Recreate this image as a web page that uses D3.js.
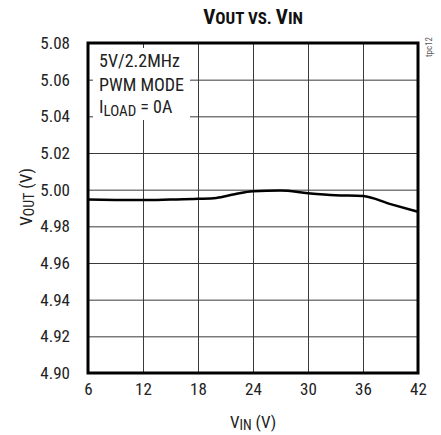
<html>
<head>
<script src="https://d3js.org/d3.v7.min.js"></script>
<style>
  body { margin: 0; background: #fff; }
  text { font-family: "Liberation Sans Narrow", "Roboto Condensed", "DejaVu Sans Condensed", sans-serif; }
</style>
</head>
<body>
<div id="viz"></div>
<script>
const W = 441, H = 435;

// input voltage (V) and output voltage (V)
const vin  = [6, 9, 12, 15, 18, 20, 22, 24, 27, 30, 33, 36, 39, 42];
const vout = [4.9947, 4.9944, 4.9943, 4.9946, 4.9950, 4.9955, 4.9975, 4.9991, 4.9995, 4.9981, 4.9970, 4.9965, 4.9921, 4.9879];

const xTicks = [6, 12, 18, 24, 30, 36, 42];
const yTicks = [4.90, 4.92, 4.94, 4.96, 4.98, 5.00, 5.02, 5.04, 5.06, 5.08];

const margin = {left: 88, right: 23, top: 43, bottom: 62};
const pw = W - margin.left - margin.right;
const ph = H - margin.top - margin.bottom;

const svg = d3.select("#viz").append("svg")
  .attr("width", W)
  .attr("height", H);

const x = d3.scaleLinear().domain([6, 42]).range([margin.left, margin.left + pw]);
const y = d3.scaleLinear().domain([4.90, 5.08]).range([margin.top + ph, margin.top]);

// grid + tick labels
const xAxis = svg.append("g")
  .attr("transform", `translate(0,${margin.top + ph})`)
  .call(d3.axisBottom(x).tickValues(xTicks).tickSize(-ph).tickPadding(10).tickFormat(d3.format("d")));

const yAxis = svg.append("g")
  .attr("transform", `translate(${margin.left},0)`)
  .call(d3.axisLeft(y).tickValues(yTicks).tickSize(-pw).tickPadding(18).tickFormat(d3.format(".2f")));

[xAxis, yAxis].forEach(a => {
  a.select(".domain").remove();
  a.selectAll("line").attr("stroke", "#3a3a3a").attr("stroke-width", 1);
  a.selectAll("text").attr("fill", "#222").style("font-size", "17px");
});

// white box behind the conditions text
svg.append("rect")
  .attr("x", margin.left + 5)
  .attr("y", margin.top + 5)
  .attr("width", 97)
  .attr("height", 72)
  .attr("fill", "#fff");

// curve
svg.append("path")
  .datum(vin.map((v, i) => [v, vout[i]]))
  .attr("fill", "none")
  .attr("stroke", "#000")
  .attr("stroke-width", 2.5)
  .attr("d", d3.line().x(d => x(d[0])).y(d => y(d[1])).curve(d3.curveMonotoneX));

// frame
svg.append("rect")
  .attr("x", margin.left)
  .attr("y", margin.top)
  .attr("width", pw)
  .attr("height", ph)
  .attr("fill", "none")
  .attr("stroke", "#000")
  .attr("stroke-width", 3);

// conditions
const note = svg.append("g").attr("fill", "#222").style("font-size", "18px");
note.append("text").attr("x", 99).attr("y", 67).text("5V/2.2MHz");
note.append("text").attr("x", 99).attr("y", 91).text("PWM MODE");
const il = note.append("text").attr("x", 99).attr("y", 113);
il.append("tspan").text("I");
il.append("tspan").attr("dy", 3).style("font-size", "15px").text("LOAD");
il.append("tspan").attr("dy", -3).text(" = 0A");

// title
const title = svg.append("text")
  .attr("x", margin.left + pw / 2)
  .attr("y", 24)
  .attr("text-anchor", "middle")
  .attr("fill", "#111")
  .style("font-weight", "bold");
title.append("tspan").style("font-size", "21px").text("V");
title.append("tspan").style("font-size", "17px").text("OUT VS. ");
title.append("tspan").style("font-size", "21px").text("V");
title.append("tspan").style("font-size", "17px").text("IN");

// x label
const xl = svg.append("text")
  .attr("x", margin.left + pw / 2)
  .attr("y", 428)
  .attr("text-anchor", "middle")
  .attr("fill", "#222")
  .style("font-size", "17px");
xl.append("tspan").text("V");
xl.append("tspan").attr("dy", 2).style("font-size", "14px").text("IN");
xl.append("tspan").attr("dy", -2).text(" (V)");

// y label
const yl = svg.append("text")
  .attr("transform", `translate(32,197) rotate(-90)`)
  .attr("text-anchor", "middle")
  .attr("fill", "#222")
  .style("font-size", "17px");
yl.append("tspan").text("V");
yl.append("tspan").attr("dy", 2).style("font-size", "14px").text("OUT");
yl.append("tspan").attr("dy", -2).text(" (V)");

// figure tag
svg.append("text")
  .attr("transform", `translate(432,47) rotate(-90)`)
  .attr("text-anchor", "middle")
  .attr("fill", "#555")
  .style("font-size", "9px")
  .text("tpc12");
</script>
</body>
</html>
